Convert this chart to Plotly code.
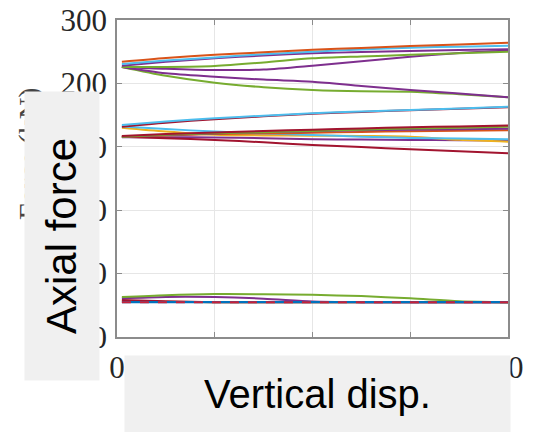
import plotly.graph_objects as go

# ---- data ----
disp = [1, 10, 20, 30, 40, 50, 60, 70, 80]

# upper group
top_orange = [234, 240, 245, 249, 253, 256, 259, 261.5, 264]
top_cyan = [230.6, 236, 241, 246, 250, 253.5, 256.4, 258, 259.5]
top_purple_a = [228, 234, 239.6, 244, 247.4, 249.5, 251, 252.5, 254]
top_green_up = [226, 226, 227.5, 233, 239.5, 242.5, 245, 247.5, 250]
top_purple_dip = [226, 223, 221, 222, 228, 235, 242, 248, 252]
top_purple_down = [226, 216, 210.6, 206, 202.7, 196, 189.6, 184, 178]
top_green_down = [226, 212, 201, 194, 189.6, 187.5, 187, 183, 178]

# middle group
mid_cyan_up = [134.4, 140, 145, 149, 153, 155.5, 158, 160.5, 163.3]
mid_red_up = [131.8, 138, 143.5, 148, 152, 155, 157.5, 160, 162.5]
mid_cyan_down = [132, 128, 124, 121, 118.6, 116, 114, 113, 112]
mid_yellow = [130, 124, 119, 118, 117.5, 117, 116, 111, 108]
mid_red_down = [116, 113.5, 110.8, 107, 103, 99.5, 96, 93, 90]
mid_purple_flat = [115, 115, 114.8, 113.5, 112, 111.5, 110.8, 110.5, 110]
mid_green = [116, 119, 121.3, 123, 125, 127, 128.7, 130, 131.5]
mid_orange = [116, 118, 120, 121, 122, 123.5, 124.5, 125.5, 126]
mid_red_2 = [117, 120, 122.5, 125, 127, 129, 131, 132, 133.4]
mid_purple_2 = [116, 118.5, 121, 123, 124.5, 126, 127, 127.8, 128.5]

# lower group
bot_green = [-137, -134, -132.3, -132.5, -133.5, -135.5, -139, -143.5, -145]
bot_purple = [-139, -136.8, -137, -139.5, -144, -145, -145, -145, -145]
bot_red = [-141.5, -143.5, -145, -145, -145, -145, -145, -145, -145]
bot_yellow = [-143, -144.5, -145, -145, -145, -145, -145, -145, -145]
bot_base = [-145, -145, -145, -145, -145, -145, -145, -145, -145]

x_ticks = [0, 20, 40, 60, 80]
y_ticks = [-200, -100, 0, 100, 200, 300]

BLUE = "#0072BD"; ORANGE = "#D95319"; YELLOW = "#EDB120"; PURPLE = "#7E2F8E"
GREEN = "#77AC30"; CYAN = "#4DBEEE"; RED = "#A2142F"

series = [
    (top_green_down, GREEN), (top_purple_down, PURPLE),
    (top_purple_dip, PURPLE), (top_green_up, GREEN),
    (top_purple_a, PURPLE), (top_cyan, CYAN), (top_orange, ORANGE),
    (mid_purple_flat, PURPLE), (mid_red_down, RED), (mid_yellow, YELLOW),
    (mid_cyan_down, CYAN), (mid_orange, ORANGE), (mid_purple_2, PURPLE),
    (mid_green, GREEN), (mid_red_2, RED), (mid_red_up, RED), (mid_cyan_up, CYAN),
    (bot_yellow, YELLOW), (bot_red, RED), (bot_purple, PURPLE), (bot_green, GREEN),
]

fig = go.Figure()
for ys, c in series:
    fig.add_trace(go.Scatter(x=disp, y=ys, mode="lines",
                             line=dict(color=c, width=2, shape="spline", smoothing=0.8),
                             showlegend=False, hoverinfo="skip"))
fig.add_trace(go.Scatter(x=disp, y=bot_base, mode="lines",
                         line=dict(color=BLUE, width=2.2), showlegend=False))
fig.add_trace(go.Scatter(x=disp, y=bot_base, mode="lines",
                         line=dict(color="#C8203A", width=2, dash="dash"), showlegend=False))

axis_common = dict(showline=True, linecolor="#8c8c8c", linewidth=1.5, mirror="ticks",
                   ticks="inside", ticklen=5, tickcolor="#8c8c8c", tickwidth=1,
                   showgrid=True, gridcolor="#e6e6e6", gridwidth=1, zeroline=False,
                   automargin=False, ticklabeloverflow="allow",
                   tickfont=dict(family="Liberation Serif", size=31, color="#262626"))

fig.update_xaxes(range=[0, 80], tickvals=x_ticks, ticktext=[str(v) for v in x_ticks],
                 ticklabelstandoff=2, **axis_common)
fig.update_yaxes(range=[-200, 300], tickvals=y_ticks, ticktext=[str(v) for v in y_ticks],
                 ticklabelstandoff=2, **axis_common)

fig.update_layout(
    width=554, height=432, margin=dict(l=117, r=46, t=20, b=95),
    paper_bgcolor="white", plot_bgcolor="white",
    annotations=[
        dict(text="Force (kN)", xref="paper", yref="paper", x=-0.225, y=0.577,
             xanchor="center", yanchor="middle", textangle=-90, showarrow=False,
             font=dict(family="Liberation Serif", size=30, color="#444444")),
        dict(text="Axial force", xref="paper", yref="paper", x=-0.1407, y=0.3186,
             xanchor="center", yanchor="middle", textangle=-90, showarrow=False,
             width=286, height=72, bgcolor="#f0f0f0", borderpad=1,
             font=dict(family="Liberation Sans", size=42, color="black")),
        dict(text="Vertical disp.", xref="paper", yref="paper", x=0.5128, y=-0.1798,
             xanchor="center", yanchor="middle", showarrow=False,
             width=383, height=74, bgcolor="#f0f0f0", borderpad=1,
             font=dict(family="Liberation Sans", size=40, color="black")),
    ],
)

# remove the default page margin so the figure sits at the window's top-left corner
fig.write_html("out.html", config={"displayModeBar": False},
               post_script="document.body.style.margin='0';")
